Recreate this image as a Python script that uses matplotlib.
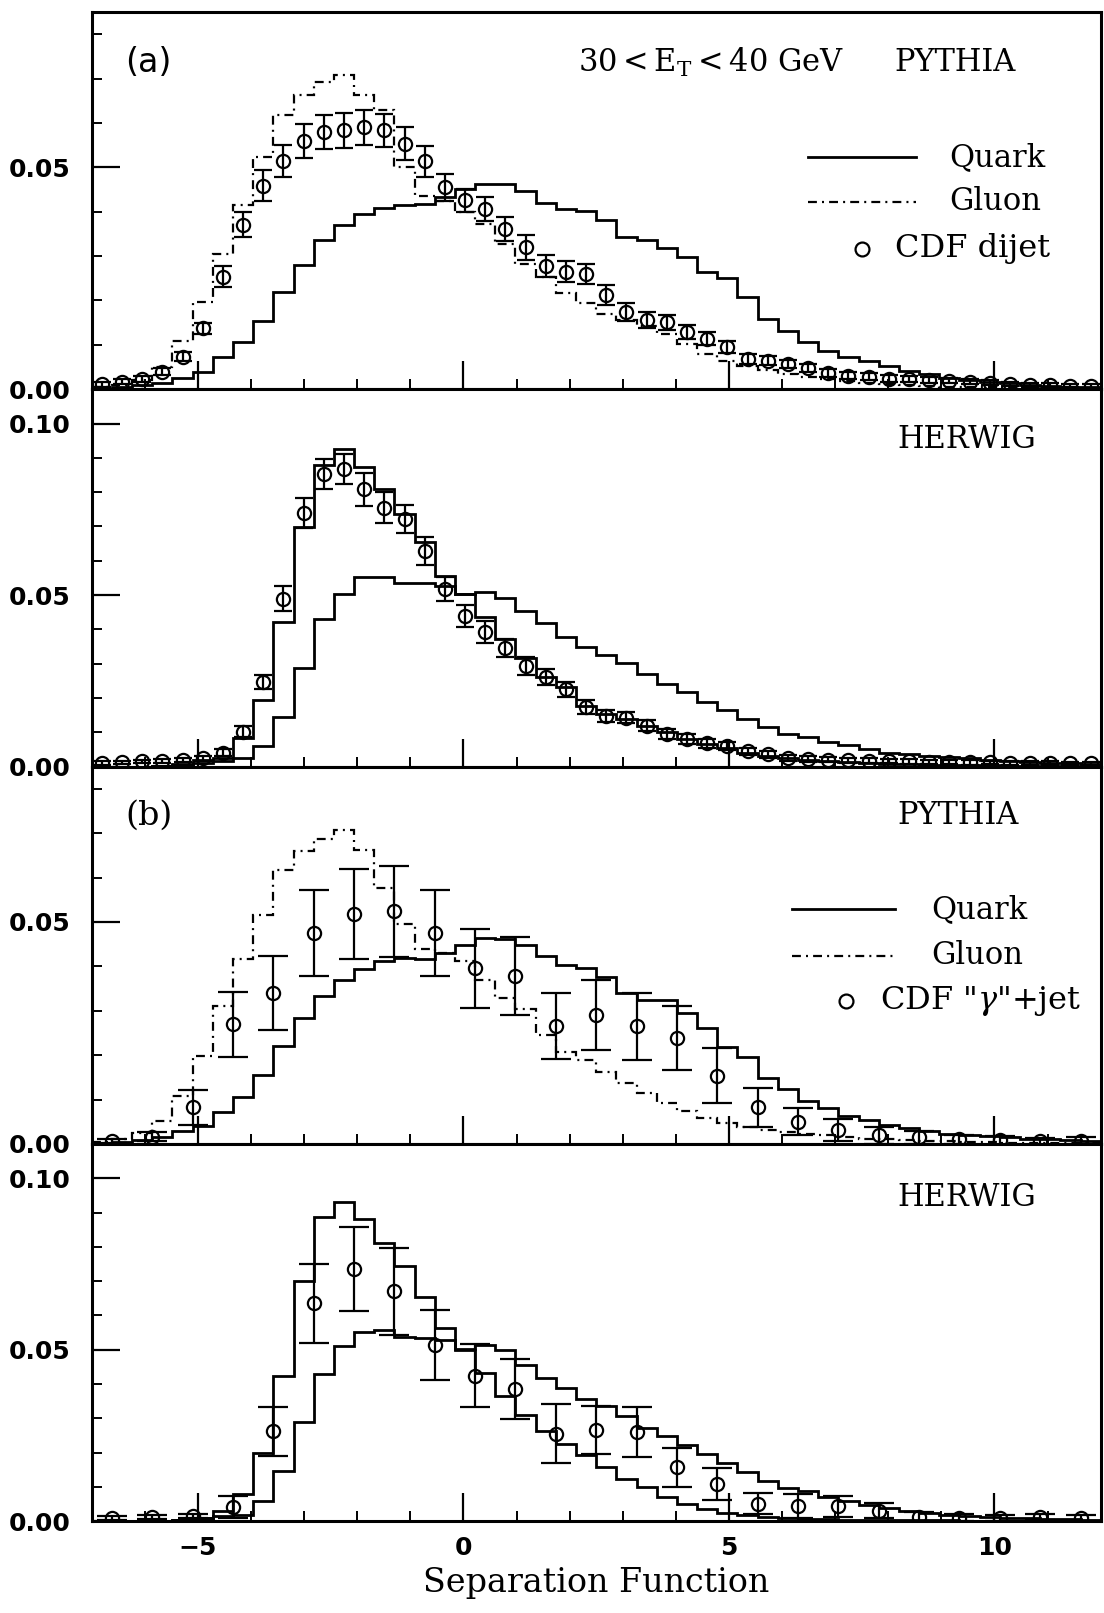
import numpy as np
import matplotlib
matplotlib.use("Agg")
import matplotlib.pyplot as plt
from matplotlib.ticker import MultipleLocator

plt.rcParams.update(
    {
        "font.family": "DejaVu Serif",
        "mathtext.fontset": "dejavuserif",
        "axes.linewidth": 2.2,
    }
)

# ---------------------------------------------------------------- data
# fine binning (MC histograms, dijet data) and coarse binning ("gamma"+jet data)
FINE_EDGES = np.linspace(-7.0, 12.0, 51)
COARSE_EDGES = np.linspace(-7.0, 12.0, 26)

# (a) PYTHIA, 30<ET<40 GeV
pyth_a_quark = [
    0.0000, 0.0005, 0.0010, 0.0015, 0.0025, 0.0040, 0.0073, 0.0107, 0.0154, 0.0220,
    0.0280, 0.0336, 0.0370, 0.0395, 0.0408, 0.0415, 0.0418, 0.0432, 0.0451, 0.0462,
    0.0462, 0.0447, 0.0420, 0.0405, 0.0401, 0.0382, 0.0344, 0.0337, 0.0318, 0.0299,
    0.0265, 0.0250, 0.0208, 0.0159, 0.0132, 0.0106, 0.0087, 0.0072, 0.0064, 0.0053,
    0.0042, 0.0034, 0.0026, 0.0020, 0.0017, 0.0013, 0.0010, 0.0008, 0.0006, 0.0004,
]
pyth_a_gluon = [
    0.0005, 0.0010, 0.0020, 0.0050, 0.0109, 0.0196, 0.0305, 0.0414, 0.0523, 0.0617,
    0.0662, 0.0692, 0.0707, 0.0662, 0.0628, 0.0500, 0.0436, 0.0425, 0.0400, 0.0372,
    0.0327, 0.0282, 0.0252, 0.0216, 0.0195, 0.0170, 0.0155, 0.0143, 0.0125, 0.0102,
    0.0079, 0.0064, 0.0052, 0.0043, 0.0035, 0.0028, 0.0022, 0.0018, 0.0014, 0.0011,
    0.0009, 0.0007, 0.0006, 0.0005, 0.0004, 0.0003, 0.0003, 0.0002, 0.0002, 0.0001,
]
cdf_dijet = [
    0.0011, 0.0017, 0.0023, 0.0040, 0.0073, 0.0137, 0.0254, 0.0371, 0.0459, 0.0515,
    0.0559, 0.0580, 0.0583, 0.0590, 0.0583, 0.0553, 0.0514, 0.0455, 0.0426, 0.0406,
    0.0361, 0.0320, 0.0278, 0.0265, 0.0260, 0.0212, 0.0174, 0.0157, 0.0151, 0.0129,
    0.0114, 0.0095, 0.0068, 0.0064, 0.0057, 0.0049, 0.0036, 0.0030, 0.0028, 0.0024,
    0.0023, 0.0021, 0.0019, 0.0017, 0.0015, 0.0012, 0.0010, 0.0009, 0.0008, 0.0007,
]
cdf_dijet_err = [
    0.0005, 0.0006, 0.0007, 0.0008, 0.0010, 0.0013, 0.0023, 0.0028, 0.0034, 0.0036,
    0.0038, 0.0038, 0.0039, 0.0039, 0.0038, 0.0037, 0.0035, 0.0030, 0.0026, 0.0026,
    0.0027, 0.0028, 0.0025, 0.0024, 0.0023, 0.0022, 0.0020, 0.0018, 0.0017, 0.0015,
    0.0014, 0.0013, 0.0011, 0.0010, 0.0010, 0.0009, 0.0009, 0.0008, 0.0008, 0.0007,
    0.0007, 0.0006, 0.0006, 0.0006, 0.0005, 0.0005, 0.0005, 0.0005, 0.0004, 0.0004,
]

# (a) HERWIG
herw_a_quark = [
    0.0000, 0.0000, 0.0000, 0.0002, 0.0005, 0.0010, 0.0015, 0.0024, 0.0061, 0.0145,
    0.0286, 0.0429, 0.0503, 0.0552, 0.0554, 0.0535, 0.0534, 0.0525, 0.0503, 0.0510,
    0.0490, 0.0455, 0.0420, 0.0379, 0.0348, 0.0326, 0.0301, 0.0270, 0.0241, 0.0218,
    0.0187, 0.0165, 0.0140, 0.0116, 0.0095, 0.0085, 0.0072, 0.0063, 0.0051, 0.0041,
    0.0036, 0.0031, 0.0028, 0.0024, 0.0020, 0.0017, 0.0014, 0.0011, 0.0009, 0.0007,
]
herw_a_gluon = [
    0.0000, 0.0000, 0.0000, 0.0003, 0.0008, 0.0019, 0.0024, 0.0082, 0.0194, 0.0421,
    0.0697, 0.0880, 0.0926, 0.0874, 0.0808, 0.0736, 0.0655, 0.0557, 0.0503, 0.0436,
    0.0373, 0.0317, 0.0261, 0.0231, 0.0177, 0.0153, 0.0138, 0.0119, 0.0100, 0.0080,
    0.0065, 0.0054, 0.0041, 0.0031, 0.0024, 0.0019, 0.0015, 0.0012, 0.0010, 0.0008,
    0.0007, 0.0006, 0.0005, 0.0004, 0.0004, 0.0003, 0.0003, 0.0002, 0.0002, 0.0002,
]
cdf_dijet_h = [
    0.0010, 0.0012, 0.0015, 0.0016, 0.0018, 0.0024, 0.0040, 0.0102, 0.0247, 0.0489,
    0.0740, 0.0852, 0.0868, 0.0808, 0.0755, 0.0723, 0.0629, 0.0518, 0.0440, 0.0392,
    0.0346, 0.0293, 0.0261, 0.0226, 0.0173, 0.0148, 0.0143, 0.0119, 0.0095, 0.0080,
    0.0068, 0.0060, 0.0044, 0.0036, 0.0026, 0.0022, 0.0020, 0.0018, 0.0017, 0.0016,
    0.0015, 0.0014, 0.0013, 0.0012, 0.0012, 0.0011, 0.0010, 0.0010, 0.0010, 0.0009,
]
cdf_dijet_h_err = [
    0.0005, 0.0005, 0.0005, 0.0005, 0.0006, 0.0008, 0.0010, 0.0015, 0.0020, 0.0036,
    0.0044, 0.0044, 0.0043, 0.0047, 0.0045, 0.0041, 0.0040, 0.0035, 0.0032, 0.0032,
    0.0027, 0.0026, 0.0024, 0.0022, 0.0020, 0.0018, 0.0017, 0.0016, 0.0015, 0.0014,
    0.0013, 0.0012, 0.0011, 0.0010, 0.0009, 0.0009, 0.0008, 0.0008, 0.0007, 0.0007,
    0.0007, 0.0006, 0.0006, 0.0006, 0.0005, 0.0005, 0.0005, 0.0005, 0.0004, 0.0004,
]

# (b) PYTHIA
pyth_b_quark = [
    0.0003, 0.0005, 0.0008, 0.0015, 0.0028, 0.0041, 0.0071, 0.0106, 0.0155, 0.0221,
    0.0284, 0.0333, 0.0370, 0.0393, 0.0411, 0.0419, 0.0417, 0.0430, 0.0449, 0.0464,
    0.0461, 0.0447, 0.0423, 0.0402, 0.0396, 0.0377, 0.0341, 0.0325, 0.0325, 0.0295,
    0.0260, 0.0218, 0.0195, 0.0149, 0.0123, 0.0096, 0.0081, 0.0062, 0.0054, 0.0042,
    0.0035, 0.0028, 0.0023, 0.0019, 0.0017, 0.0015, 0.0012, 0.0010, 0.0008, 0.0006,
]
pyth_b_gluon = [
    0.0005, 0.0010, 0.0025, 0.0052, 0.0108, 0.0198, 0.0310, 0.0417, 0.0515, 0.0617,
    0.0660, 0.0686, 0.0708, 0.0662, 0.0576, 0.0496, 0.0438, 0.0430, 0.0411, 0.0370,
    0.0329, 0.0303, 0.0245, 0.0208, 0.0188, 0.0162, 0.0138, 0.0115, 0.0092, 0.0073,
    0.0058, 0.0046, 0.0038, 0.0031, 0.0027, 0.0023, 0.0019, 0.0015, 0.0012, 0.0010,
    0.0008, 0.0007, 0.0006, 0.0005, 0.0004, 0.0003, 0.0003, 0.0002, 0.0002, 0.0001,
]
cdf_gamma = [
    0.0007, 0.0016, 0.0082, 0.0269, 0.0340, 0.0475, 0.0518, 0.0524, 0.0475, 0.0396,
    0.0378, 0.0266, 0.0290, 0.0265, 0.0238, 0.0154, 0.0082, 0.0050, 0.0031, 0.0019,
    0.0015, 0.0010, 0.0008, 0.0006, 0.0007,
]
cdf_gamma_err = [
    0.0005, 0.0010, 0.0040, 0.0073, 0.0084, 0.0097, 0.0102, 0.0102, 0.0097, 0.0089,
    0.0088, 0.0074, 0.0079, 0.0076, 0.0072, 0.0062, 0.0045, 0.0031, 0.0025, 0.0020,
    0.0015, 0.0010, 0.0010, 0.0008, 0.0008,
]

# (b) HERWIG
herw_b_quark = [
    0.0000, 0.0000, 0.0000, 0.0002, 0.0005, 0.0008, 0.0015, 0.0017, 0.0058, 0.0146,
    0.0288, 0.0430, 0.0510, 0.0553, 0.0558, 0.0536, 0.0534, 0.0529, 0.0502, 0.0515,
    0.0498, 0.0456, 0.0417, 0.0387, 0.0355, 0.0336, 0.0306, 0.0272, 0.0248, 0.0221,
    0.0195, 0.0171, 0.0143, 0.0116, 0.0097, 0.0087, 0.0070, 0.0060, 0.0046, 0.0039,
    0.0031, 0.0023, 0.0017, 0.0014, 0.0012, 0.0010, 0.0008, 0.0007, 0.0006, 0.0005,
]
herw_b_gluon = [
    0.0000, 0.0000, 0.0000, 0.0002, 0.0005, 0.0010, 0.0030, 0.0078, 0.0199, 0.0424,
    0.0701, 0.0886, 0.0932, 0.0881, 0.0811, 0.0743, 0.0655, 0.0563, 0.0500, 0.0432,
    0.0364, 0.0311, 0.0262, 0.0226, 0.0192, 0.0158, 0.0124, 0.0100, 0.0072, 0.0051,
    0.0036, 0.0023, 0.0017, 0.0012, 0.0009, 0.0007, 0.0006, 0.0005, 0.0004, 0.0004,
    0.0003, 0.0003, 0.0003, 0.0002, 0.0002, 0.0002, 0.0001, 0.0001, 0.0001, 0.0001,
]
cdf_gamma_h = [
    0.0010, 0.0013, 0.0015, 0.0041, 0.0262, 0.0636, 0.0735, 0.0670, 0.0515, 0.0424,
    0.0385, 0.0255, 0.0267, 0.0260, 0.0157, 0.0108, 0.0051, 0.0044, 0.0043, 0.0030,
    0.0013, 0.0010, 0.0010, 0.0012, 0.0010,
]
cdf_gamma_h_err = [
    0.0005, 0.0006, 0.0007, 0.0032, 0.0072, 0.0115, 0.0122, 0.0126, 0.0102, 0.0092,
    0.0087, 0.0086, 0.0070, 0.0073, 0.0056, 0.0047, 0.0030, 0.0034, 0.0030, 0.0022,
    0.0015, 0.0010, 0.0008, 0.0008, 0.0008,
]

X_TICKS = [-5, 0, 5, 10]
X_LABELS = ["\u22125", "0", "5", "10"]
Y_TICKS_PYTHIA = [0.0, 0.05]
Y_LABELS_PYTHIA = ["0.00", "0.05"]
Y_TICKS_HERWIG = [0.0, 0.05, 0.10]
Y_LABELS_HERWIG = ["0.00", "0.05", "0.10"]

# ---------------------------------------------------------------- style
GLUON_DASH = (0, (4.0, 2.3, 0.9, 2.3))
TICK_FONT = dict(family="DejaVu Sans", weight="bold", size=18)
TEXT_SIZE = 22


def draw_panel(ax, quark, gluon, data, err, edges, gluon_ls, ymax, yticks, ylabels,
               capsize):
    centers = 0.5 * (edges[:-1] + edges[1:])
    ax.stairs(quark, FINE_EDGES, color="k", lw=2.0, baseline=None)
    if gluon_ls == "-":
        ax.stairs(gluon, FINE_EDGES, color="k", lw=2.0, baseline=None)
    else:
        ax.stairs(gluon, FINE_EDGES, color="k", lw=1.6, ls=gluon_ls, baseline=None)
    ax.errorbar(
        centers, data, yerr=err, fmt="o", mfc="none", mec="k", ms=9.5, mew=1.6,
        ecolor="k", elinewidth=1.6, capsize=capsize, capthick=1.6, zorder=3,
    )
    ax.set_xlim(-7.0, 12.0)
    ax.set_ylim(0.0, ymax)
    ax.set_xticks(X_TICKS)
    ax.set_xticklabels(X_LABELS, **TICK_FONT)
    ax.xaxis.set_minor_locator(MultipleLocator(1))
    ax.set_yticks(yticks)
    ax.set_yticklabels(ylabels, **TICK_FONT)
    ax.yaxis.set_minor_locator(MultipleLocator(0.01))
    ax.tick_params(which="major", direction="in", length=20, width=1.6,
                   top=False, right=False)
    ax.tick_params(which="minor", direction="in", length=7, width=1.4,
                   top=False, right=False)
    ax.tick_params(axis="y", which="major", pad=15)
    ax.tick_params(axis="x", which="major", pad=11)


def label(ax, x, y, s, **kw):
    ax.text(x, y, s, transform=ax.transAxes, ha="left", va="center",
            fontsize=kw.pop("size", TEXT_SIZE), **kw)


def legend(ax, x0, x1, xc, xt, ys, third):
    ax.plot([x0, x1], [ys[0], ys[0]], transform=ax.transAxes, color="k", lw=2.0)
    ax.plot([x0, x1], [ys[1], ys[1]], transform=ax.transAxes, color="k", lw=1.6,
            ls=GLUON_DASH)
    ax.plot([xc], [ys[2]], "o", transform=ax.transAxes, mfc="none", mec="k",
            ms=10, mew=1.6)
    label(ax, xt, ys[0], "Quark")
    label(ax, xt, ys[1], "Gluon")
    label(ax, xc + 0.033, ys[2], third, size=23)


fig = plt.figure(figsize=(11.04, 16.13), dpi=100)
axes = fig.subplots(4, 1, sharex=True, gridspec_kw={"hspace": 0})
fig.subplots_adjust(left=0.0831, right=0.9970, top=0.9926, bottom=0.0569)

draw_panel(axes[0], pyth_a_quark, pyth_a_gluon, cdf_dijet, cdf_dijet_err,
           FINE_EDGES, GLUON_DASH, 0.085, Y_TICKS_PYTHIA, Y_LABELS_PYTHIA, 6.5)
draw_panel(axes[1], herw_a_quark, herw_a_gluon, cdf_dijet_h, cdf_dijet_h_err,
           FINE_EDGES, "-", 0.11, Y_TICKS_HERWIG, Y_LABELS_HERWIG, 6.5)
draw_panel(axes[2], pyth_b_quark, pyth_b_gluon, cdf_gamma, cdf_gamma_err,
           COARSE_EDGES, GLUON_DASH, 0.085, Y_TICKS_PYTHIA, Y_LABELS_PYTHIA, 11)
draw_panel(axes[3], herw_b_quark, herw_b_gluon, cdf_gamma_h, cdf_gamma_h_err,
           COARSE_EDGES, "-", 0.11, Y_TICKS_HERWIG, Y_LABELS_HERWIG, 11)

# panel annotations
label(axes[0], 0.033, 0.865, "(a)", family="DejaVu Sans", size=24)
label(axes[0], 0.482, 0.867, r"30$<$E$_\mathrm{T}$$<$40 GeV")
label(axes[0], 0.796, 0.867, "PYTHIA")
legend(axes[0], 0.710, 0.817, 0.763, 0.850, (0.615, 0.497, 0.372), "CDF dijet")

label(axes[1], 0.798, 0.866, "HERWIG")

label(axes[2], 0.033, 0.869, "(b)", size=24)
label(axes[2], 0.798, 0.870, "PYTHIA")
legend(axes[2], 0.694, 0.796, 0.748, 0.832, (0.622, 0.498, 0.378),
       r'CDF "$\gamma$"+jet')

label(axes[3], 0.798, 0.859, "HERWIG")

axes[3].set_xlabel("Separation Function", fontsize=24, labelpad=5)

fig.savefig("out.png", dpi=100)
